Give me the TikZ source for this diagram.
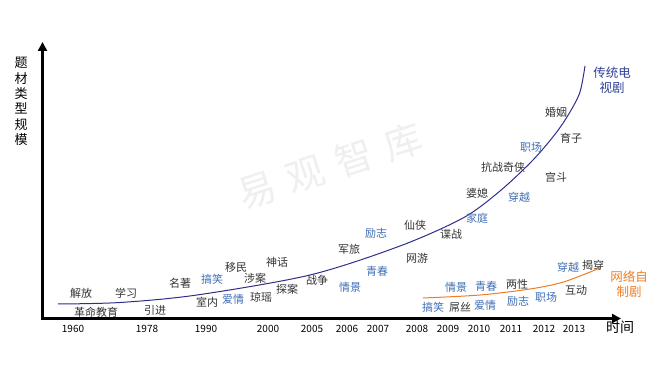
\documentclass[tikz,border=0pt]{standalone}
\usepackage{fontspec}
\setmainfont{Noto Sans CJK SC}
\usetikzlibrary{arrows.meta}
\definecolor{lblk}{HTML}{333333}
\definecolor{lblue}{HTML}{3E6DB5}
\definecolor{navyc}{HTML}{2E2E8C}
\definecolor{orng}{HTML}{F07D22}
\definecolor{wmark}{HTML}{EFEFEF}
\definecolor{titblue}{HTML}{2F3F95}
\begin{document}
\begin{tikzpicture}[x=1pt,y=-1pt,
  lab/.style={inner sep=0pt, font=\fontsize{11}{13}\selectfont, text=lblk},
  blab/.style={lab, text=lblue},
  yr/.style={inner sep=0pt, font=\fontsize{10}{12}\selectfont, text=black},
  axisline/.style={line width=3pt, line cap=rect, -{Triangle[width=9pt,length=9pt]}}]
\useasboundingbox (0,0) rectangle (667,366);
% watermark
\node[rotate=18, text=wmark, inner sep=0pt, font=\fontsize{38}{40}\selectfont] (wm) at (330,166) {易\hspace{0.35em}观\hspace{0.35em}智\hspace{0.35em}库};
% axes
\coordinate (O) at (42.5,318.5);
\coordinate (ytip) at (42.5,42);
\coordinate (xtip) at (621,318.5);
\draw[axisline] (O) -- (ytip);
\draw[axisline] (O) -- (xtip);
% axis labels
\node[inner sep=0pt, align=center, text=black, font=\fontsize{13}{15.4}\selectfont] (ylab) at (21,101.5) {题\\材\\类\\型\\规\\模};
\node[inner sep=0pt, text=black, font=\fontsize{14}{16}\selectfont] (xlab) at (620,327) {时间};
% years
\node[yr] (y1960) at (73,329) {1960};
\node[yr] (y1978) at (147,329) {1978};
\node[yr] (y1990) at (206,329) {1990};
\node[yr] (y2000) at (268,329) {2000};
\node[yr] (y2005) at (312,329) {2005};
\node[yr] (y2006) at (347,329) {2006};
\node[yr] (y2007) at (378,329) {2007};
\node[yr] (y2008) at (417,329) {2008};
\node[yr] (y2009) at (448,329) {2009};
\node[yr] (y2010) at (479,329) {2010};
\node[yr] (y2011) at (511,329) {2011};
\node[yr] (y2012) at (544,329) {2012};
\node[yr] (y2013) at (574,329) {2013};
% curves
\draw[navyc, line width=1pt] plot[smooth, tension=0.5] coordinates {(58,304) (120,302.5) (197,295) (310,275) (400,246) (463,218) (500,191) (533,160) (556,133) (570,112) (580,92) (585,66)};
\draw[orng, line width=1pt] plot[smooth, tension=0.55] coordinates {(423,298) (480,295) (530,289) (560,283) (580,276) (600,268)};
% curve titles
\node[inner sep=0pt, align=center, text=titblue, font=\fontsize{12.5}{15.5}\selectfont] (tv) at (612,80) {传统电\\视剧};
\node[inner sep=0pt, align=center, text=orng, font=\fontsize{12.5}{15}\selectfont] (web) at (629,284.5) {网络自\\制剧};
% traditional TV labels
\node[lab] (a1) at (81,293) {解放};
\node[lab] (a2) at (126,293) {学习};
\node[lab] (a3) at (96,312) {革命教育};
\node[lab] (a4) at (155,310) {引进};
\node[lab] (a5) at (180,283) {名著};
\node[blab] (a6) at (212,279) {搞笑};
\node[lab] (a7) at (207,302) {室内};
\node[blab] (a8) at (233,299) {爱情};
\node[lab] (a9) at (236,267) {移民};
\node[lab] (a10) at (255,278) {涉案};
\node[lab] (a11) at (277,262) {神话};
\node[lab] (a12) at (261,297) {琼瑶};
\node[lab] (a13) at (287,289) {探案};
\node[lab] (a14) at (317,280) {战争};
\node[blab] (a15) at (350,287) {情景};
\node[lab] (a16) at (349,249) {军旅};
\node[blab] (a17) at (376,233) {励志};
\node[blab] (a18) at (377,271) {青春};
\node[lab] (a19) at (415,225) {仙侠};
\node[lab] (a20) at (451,234) {谍战};
\node[lab] (a21) at (417,258) {网游};
\node[lab] (a22) at (477,193) {婆媳};
\node[blab] (a23) at (477,218) {家庭};
\node[blab] (a24) at (519,197) {穿越};
\node[lab] (a25) at (503,167) {抗战奇侠};
\node[blab] (a26) at (531,147) {职场};
\node[lab] (a27) at (556,112) {婚姻};
\node[lab] (a28) at (571,138) {育子};
\node[lab] (a29) at (556,177) {宫斗};
% web drama labels
\node[blab] (b1) at (456,287) {情景};
\node[blab] (b2) at (486,286) {青春};
\node[lab] (b3) at (517,284) {两性};
\node[blab] (b4) at (433,307) {搞笑};
\node[lab] (b5) at (460,307) {屌丝};
\node[blab] (b6) at (485,305) {爱情};
\node[blab] (b7) at (518,301) {励志};
\node[blab] (b8) at (546,297) {职场};
\node[blab] (b9) at (568,267) {穿越};
\node[lab] (b10) at (593,265) {揭穿};
\node[lab] (b11) at (576,290) {互动};
\end{tikzpicture}
\end{document}
